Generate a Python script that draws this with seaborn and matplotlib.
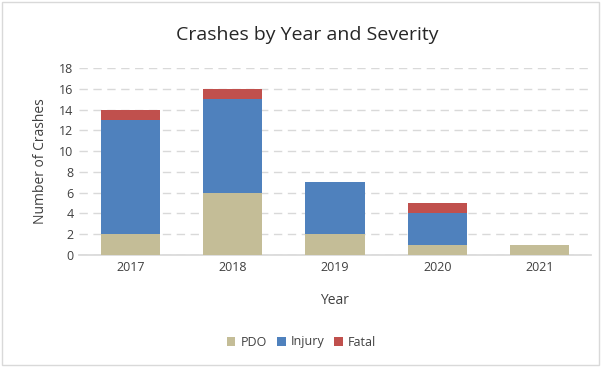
import matplotlib
matplotlib.use("Agg")
import matplotlib.pyplot as plt
import seaborn as sns
import numpy as np
import pandas as pd
from matplotlib.patches import Patch, Rectangle

years = ["2017", "2018", "2019", "2020", "2021"]
pdo = [2, 6, 2, 1, 1]
injury = [11, 9, 5, 3, 0]
fatal = [1, 1, 0, 1, 0]
series = ["PDO", "Injury", "Fatal"]
colors = {"PDO": "#C4BD97", "Injury": "#4F81BD", "Fatal": "#C0504D"}

sns.set_theme(style="white")
plt.rcParams['font.family'] = ['Open Sans', 'DejaVu Sans']

fig = plt.figure(figsize=(6.03, 3.67), dpi=100)
ax = fig.add_axes([79/603, 1-255/367, (591-79)/603, (255-68)/367])

c1 = np.array(pdo)
c2 = c1 + np.array(injury)
c3 = c2 + np.array(fatal)
for vals, name in [(c3, "Fatal"), (c2, "Injury"), (c1, "PDO")]:
    df = pd.DataFrame({"Year": years, "Value": vals})
    sns.barplot(data=df, x="Year", y="Value", color=colors[name], saturation=1,
                width=0.58, ax=ax, zorder=3, linewidth=0, edgecolor="none")

ax.set_ylim(0, 18)
ax.set_yticks(range(0, 19, 2))
ax.yaxis.grid(True, linestyle=(0, (6, 4)), color="#D9D9D9", linewidth=1, zorder=0)
ax.set_axisbelow(True)
for s in ["top", "right", "left"]:
    ax.spines[s].set_visible(False)
ax.spines["bottom"].set_color("#D9D9D9")
ax.tick_params(axis="both", labelsize=9, colors="#404040", length=0, pad=4)
ax.set_xlabel("Year", fontsize=10, color="#404040", labelpad=14)
ax.set_ylabel("Number of Crashes", fontsize=10, color="#404040", labelpad=8)
fig.text(307/603, 1-35/367, "Crashes by Year and Severity", fontsize=14,
         color="#262626", ha="center", va="center")

handles = [Patch(facecolor=colors[s], edgecolor="none") for s in series]
fig.legend(handles, series, loc="center", bbox_to_anchor=(0.5, 1-342/367), ncol=3,
           frameon=False, fontsize=9, handlelength=0.7, handleheight=0.7,
           columnspacing=0.8, handletextpad=0.4, labelcolor="#404040")

fig.patches.append(Rectangle((0.003, 0.005), 0.99, 0.99, transform=fig.transFigure,
                             fill=False, edgecolor="#D9D9D9", linewidth=1))
fig.savefig("out.png", dpi=100)
